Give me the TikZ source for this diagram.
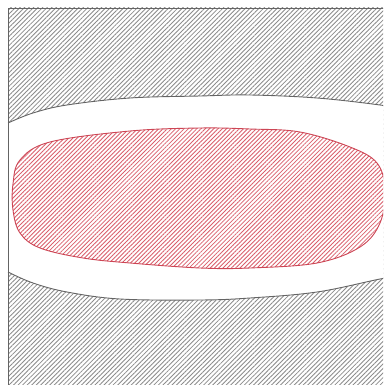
\documentclass[tikz,border=0pt]{standalone}
\usetikzlibrary{patterns.meta}
\definecolor{hatchgray}{RGB}{140,140,140}
\definecolor{edgegray}{RGB}{100,100,100}
\definecolor{hatchred}{RGB}{218,95,108}
\definecolor{edgered}{RGB}{205,70,85}
\begin{document}
\begin{tikzpicture}[x=1pt,y=-1pt,
  grayhatch/.style={pattern={Lines[angle=45,distance=3.2pt,line width=0.85pt]},pattern color=hatchgray},
  redhatch/.style={pattern={Lines[angle=45,distance=3.0pt,line width=0.85pt]},pattern color=hatchred},
  edgeline/.style={draw=edgegray,line width=0.9pt},
  rededge/.style={draw=edgered,line width=0.9pt}]
\useasboundingbox (0,0) rectangle (383,385);
\begin{scope}
\clip (0,0) rectangle (383,385);
% grey hatched block
\fill[white] (0,0) rectangle (383,385);
\fill[grayhatch] (8,8) rectangle (395,395);
% white channel
\fill[white] plot[smooth,tension=0.6] coordinates {(8,123) (33,113) (67,105) (130,98) (200,96) (250,95) (317,98) (380,105) (400,109)}
  -- (400,276)
  -- plot[smooth,tension=0.6] coordinates {(400,276) (380,279) (317,292) (250,298) (200,300) (120,299) (67,292) (33,283) (8,272)} -- cycle;
\draw[edgeline] plot[smooth,tension=0.6] coordinates {(8,123) (33,113) (67,105) (130,98) (200,96) (250,95) (317,98) (380,105) (400,109)};
\draw[edgeline] plot[smooth,tension=0.6] coordinates {(400,276) (380,279) (317,292) (250,298) (200,300) (120,299) (67,292) (33,283) (8,272)};
% red hatched core
\path[redhatch,rededge] plot[smooth cycle,tension=0.6] coordinates {(13,184) (20,160) (50,142) (130,131) (200,128) (250,129) (300,132) (350,147) (377,163) (385,190) (380,223) (360,247) (317,263) (250,268) (200,268) (130,263) (83,258) (40,248) (20,233) (13,210)};
% frame
\draw[edgeline] (8,400) -- (8,8) -- (400,8);
\end{scope}
\end{tikzpicture}
\end{document}
